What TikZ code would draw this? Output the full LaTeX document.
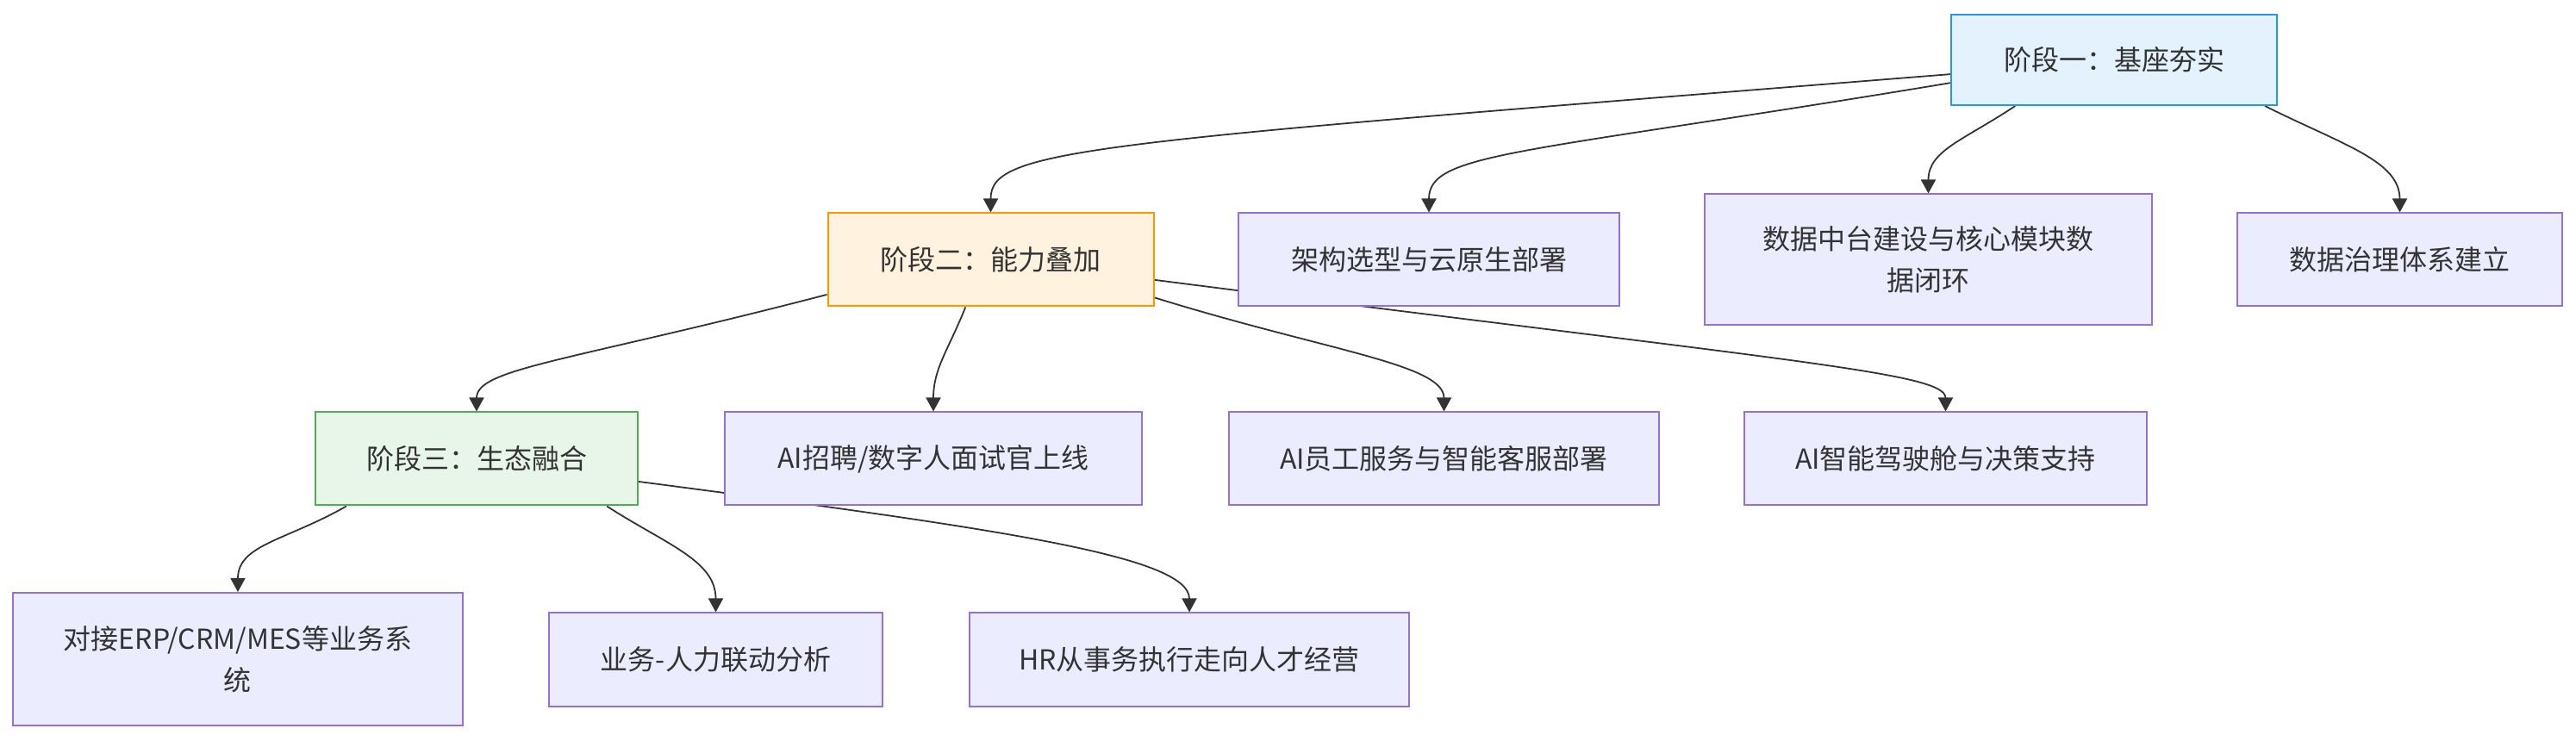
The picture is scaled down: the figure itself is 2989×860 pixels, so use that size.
\documentclass[tikz,border=0pt]{standalone}
\usepackage{fontspec}
\usepackage{tikz}
\usetikzlibrary{arrows.meta,backgrounds,positioning}
\newfontfamily\cjk{Noto Sans CJK SC}
\definecolor{cInk}{HTML}{333333}
\definecolor{cTask}{HTML}{ECECFF}
\definecolor{cTaskB}{HTML}{9370DB}
\definecolor{cOne}{HTML}{E3F2FD}
\definecolor{cOneB}{HTML}{2196F3}
\definecolor{cTwo}{HTML}{FFF3E0}
\definecolor{cTwoB}{HTML}{FF9800}
\definecolor{cThree}{HTML}{E8F5E9}
\definecolor{cThreeB}{HTML}{4CAF50}
\tikzset{
  task/.style={draw=cTaskB,fill=cTask,line width=1pt,inner sep=0pt,
               align=center,text=cInk,minimum height=54pt,
               font=\cjk\fontsize{16}{24}\selectfont},
  phase/.style={task,minimum width=189pt},
  flow/.style={-{Triangle[length=8pt,width=8.5pt]},line width=0.9pt,cInk},
}
\begin{document}
\begin{tikzpicture}[x=0.5pt,y=-0.5pt]
  \useasboundingbox (0,0) rectangle (2989,860);
  % phase one and its tasks
  \node[phase,draw=cOneB,fill=cOne,minimum height=52.5pt] (s1) at (2453,69.5) {阶段一：基座夯实};
  \node[task,minimum width=221pt] (t1) at (1658,301.5) {架构选型与云原生部署};
  \node[task,minimum width=259.5pt,minimum height=76pt] (t2) at (2237.5,301.5) {数据中台建设与核心模块数\\据闭环};
  \node[task,minimum width=188.5pt] (t3) at (2784.5,301.5) {数据治理体系建立};
  % phase two and its tasks
  \node[phase,draw=cTwoB,fill=cTwo] (s2) at (1149.5,301.5) {阶段二：能力叠加};
  \node[task,minimum width=242pt] (t4) at (1083,532.5) {AI招聘/数字人面试官上线};
  \node[task,minimum width=249.5pt] (t5) at (1675.5,532.5) {AI员工服务与智能客服部署};
  \node[task,minimum width=233.5pt] (t6) at (2257.5,532.5) {AI智能驾驶舱与决策支持};
  % phase three and its tasks
  \node[phase,draw=cThreeB,fill=cThree,minimum width=187pt] (s3) at (553,532.5) {阶段三：生态融合};
  \node[task,minimum width=261pt,minimum height=77pt] (t7) at (276,765) {对接ERP/CRM/MES等业务系\\统};
  \node[task,minimum width=193.5pt] (t8) at (830.5,765.5) {业务-人力联动分析};
  \node[task,minimum width=255pt] (t9) at (1380,765.5) {HR从事务执行走向人才经营};
  \begin{scope}[on background layer]
    \draw[flow] (s1.185) .. controls +(-1000,80) and +(0,-75) .. (s2.north);
    \draw[flow] (s1.188) .. controls +(-500,83) and +(0,-70) .. (t1.north);
    \draw[flow] (s1.205) .. controls +(-60,40) and +(0,-50) .. (t2.north);
    \draw[flow] (s1.-17) .. controls +(90,45) and +(0,-60) .. (t3.north);
    \draw[flow] (s2.192) .. controls +(-300,78) and +(0,-50) .. (s3.north);
    \draw[flow] (s2.242) .. controls +(-20,50) and +(0,-50) .. (t4.north);
    \draw[flow] (s2.-13.5) .. controls +(200,62) and +(0,-55) .. (t5.north);
    \draw[flow] (s2.-7) .. controls +(750,96) and +(0,-45) .. (t6.north);
    \draw[flow] (s3.200) .. controls +(-70,40) and +(0,-55) .. (t7.north);
    \draw[flow] (s3.-20) .. controls +(70,45) and +(0,-60) .. (t8.north);
    \draw[flow] (s3.-8) .. controls +(420,55) and +(0,-65) .. (t9.north);
  \end{scope}
\end{tikzpicture}
\end{document}
